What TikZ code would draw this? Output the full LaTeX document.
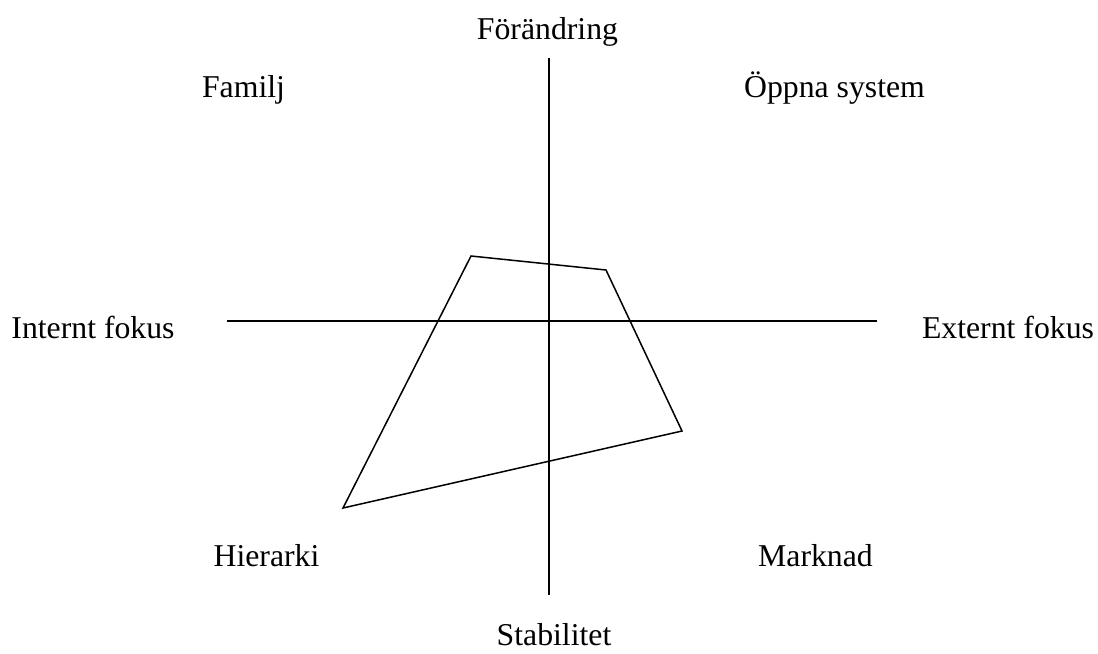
\documentclass[tikz,border=0pt]{standalone}
\usepackage{fontspec}
\setmainfont{Liberation Serif}
\usepackage{tikz}

\begin{document}
\begin{tikzpicture}[x=0.4pt,y=-0.4pt,line width=0.6pt,
		lbl/.style={font=\fontsize{12.7pt}{15pt}\selectfont,inner sep=0pt,anchor=base}]
		\useasboundingbox (0,0) rectangle (1098,653);
		% axes
		\coordinate (top) at (549,58);
		\coordinate (bot) at (549,595);
		\coordinate (lft) at (227,321);
		\coordinate (rgt) at (877,321);
		\draw (top) -- (bot);
		\draw (lft) -- (rgt);
		% profile
		\coordinate (pa) at (471,256);
		\coordinate (pb) at (606,270);
		\coordinate (pc) at (682,431);
		\coordinate (pd) at (343,508);
		\draw (pa) -- (pb) -- (pc) -- (pd) -- cycle;
		% labels
		\node[lbl] (change) at (547.5,39) {Förändring};
		\node[lbl] (stable) at (554,645) {Stabilitet};
		\node[lbl] (intern) at (93,338) {Internt fokus};
		\node[lbl] (extern) at (1008,338) {Externt fokus};
		\node[lbl] (family) at (243.5,97.7) {Familj};
		\node[lbl] (open) at (834.5,97.7) {Öppna system};
		\node[lbl] (hier) at (266.5,566.7) {Hierarki};
		\node[lbl] (market) at (815.5,566.7) {Marknad};
	\end{tikzpicture}
\end{document}
